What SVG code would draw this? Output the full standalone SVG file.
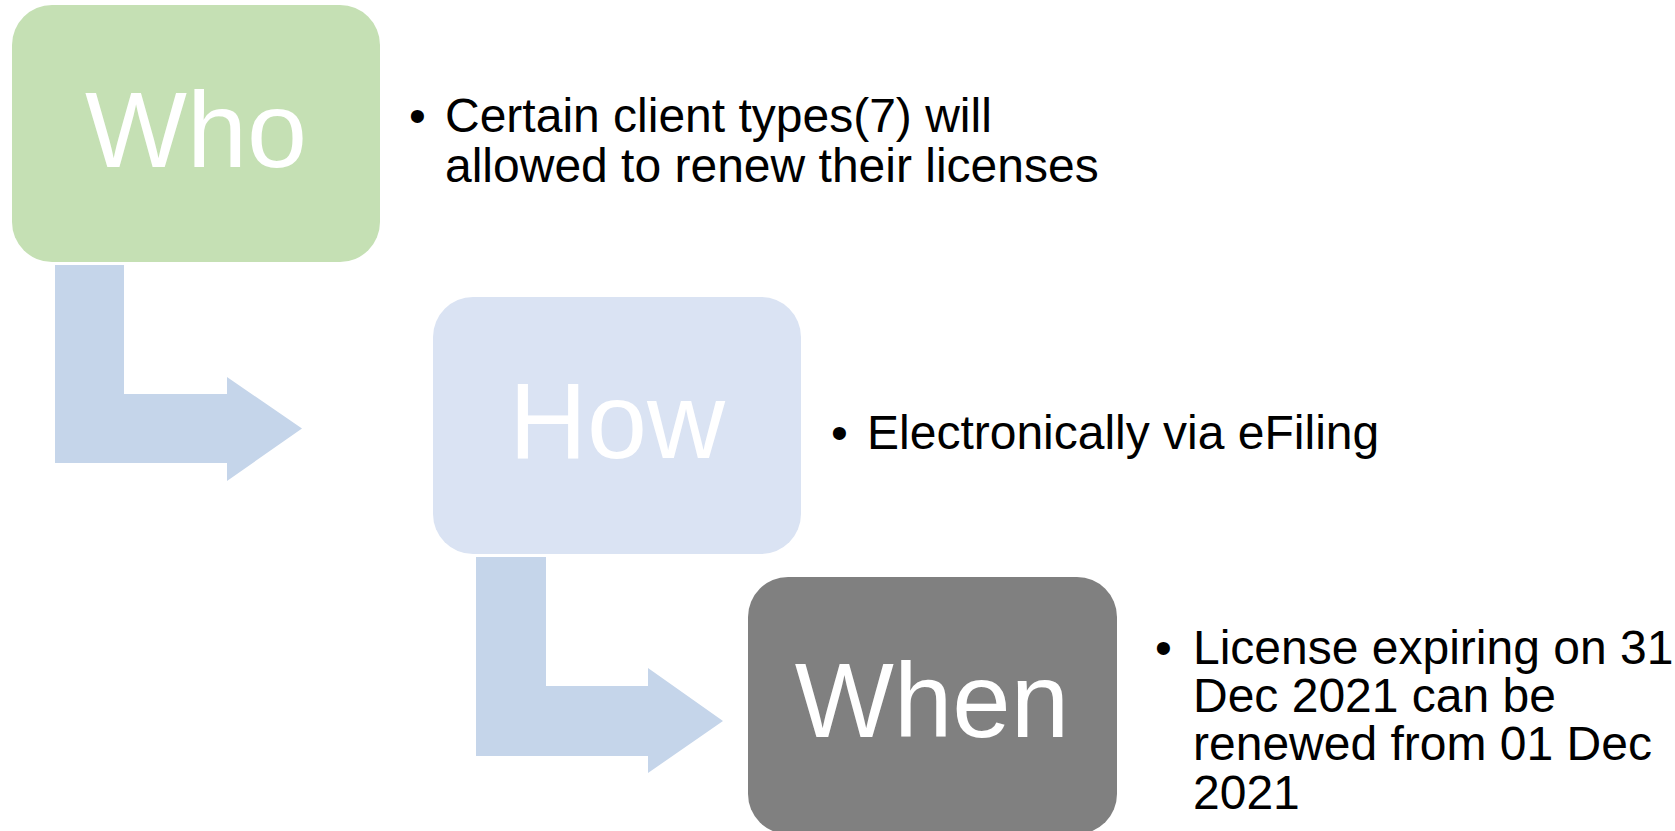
<svg xmlns="http://www.w3.org/2000/svg" width="1675" height="831" viewBox="0 0 1675 831">
<style>
.lbl{font-family:"Liberation Sans",Arial,sans-serif;font-size:108px;fill:#ffffff;text-anchor:middle}
.txt{font-family:"Liberation Sans",Arial,sans-serif;font-size:48px;fill:#000000}
.arr{fill:#C5D5EA}
</style>
<rect width="1675" height="831" fill="#ffffff"/>
<g id="connectors">
<path class="arr" d="M55,265 H124 V394 H227 V377 L302,428.5 L227,481 V463 H55 Z"/>
<path class="arr" d="M476,557 H546 V686 H648 V668 L723,721 L648,773 V756 H476 Z"/>
</g>
<g id="who">
<rect x="12" y="5" width="368" height="257" rx="40" fill="#C5E0B4"/>
<text class="lbl" x="196" y="167">Who</text>
</g>
<g id="who-text">
<text class="txt" x="409" y="132">•</text>
<text class="txt" x="445" y="132">Certain client types(7) will</text>
<text class="txt" x="445" y="182">allowed to renew their licenses</text>
</g>
<g id="how">
<rect x="433" y="297" width="368" height="257" rx="40" fill="#DAE3F3"/>
<text class="lbl" x="617" y="458">How</text>
</g>
<g id="how-text">
<text class="txt" x="831" y="449">•</text>
<text class="txt" x="867" y="449">Electronically via eFiling</text>
</g>
<g id="when">
<rect x="748" y="577" width="369" height="257" rx="40" fill="#808080"/>
<text class="lbl" x="932" y="737" style="font-size:105px">When</text>
</g>
<g id="when-text">
<text class="txt" x="1155" y="664">•</text>
<text class="txt" x="1193" y="664">License expiring on 31</text>
<text class="txt" x="1193" y="712">Dec 2021 can be</text>
<text class="txt" x="1193" y="760">renewed from 01 Dec</text>
<text class="txt" x="1193" y="809">2021</text>
</g>
</svg>
